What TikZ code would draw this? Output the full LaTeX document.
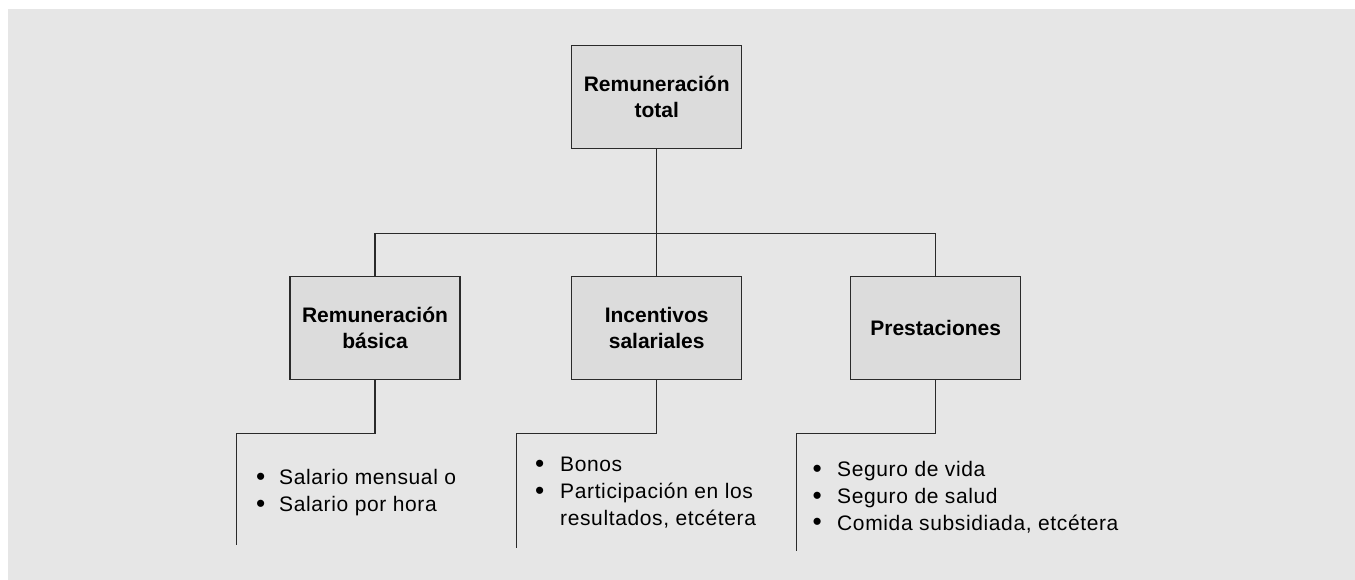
\documentclass[tikz,border=0pt]{standalone}
\usepackage{fontspec}
\setmainfont{Liberation Sans}
\newfontfamily\bodyfont[LetterSpace=3]{Liberation Sans}
\definecolor{bggray}{HTML}{E6E6E6}
\definecolor{boxgray}{HTML}{DCDCDC}
\definecolor{linegray}{HTML}{2A2A2A}
\newcommand{\blt}{\raisebox{-0.6pt}{\scalebox{1.25}{\textbullet}}}
\tikzset{
  catbox/.style={draw=linegray, fill=boxgray, line width=1.2pt, minimum width=170pt, minimum height=103pt, inner sep=0pt, align=center, font=\fontsize{21}{26}\selectfont\bfseries},
  conn/.style={draw=linegray, line width=1.2pt},
  itemlist/.style={anchor=base west, inner sep=0pt, font=\bodyfont\fontsize{21}{26.8}\selectfont}
}
\begin{document}
\begin{tikzpicture}[x=1pt,y=-1pt]
\useasboundingbox (0,0) rectangle (1355,580);
\fill[bggray] (8,9) rectangle (1355,580);

\node[catbox] (top) at (656.7,97) {Remuneración\\total};
\node[catbox] (b1) at (375,328.3) {Remuneración\\básica};
\node[catbox] (b2) at (656.7,328.3) {Incentivos\\salariales};
\node[catbox] (b3) at (935.7,328.3) {Prestaciones};

\coordinate (hub) at (656.7,233.3);
\draw[conn] (top.south) -- (hub);
\draw[conn] (b1.north) |- (b3.north |- hub) -- (b3.north);
\draw[conn] (hub) -- (b2.north);

\coordinate (c1) at (236.7,433.3);
\coordinate (e1) at (236.7,545);
\coordinate (c2) at (516.7,433.3);
\coordinate (e2) at (516.7,548);
\coordinate (c3) at (796.7,433.3);
\coordinate (e3) at (796.7,550.7);
\draw[conn] (b1.south) |- (c1) -- (e1);
\draw[conn] (b2.south) |- (c2) -- (e2);
\draw[conn] (b3.south) |- (c3) -- (e3);

\node[itemlist] (l1) at (256,484.6) {\begin{tabular}[t]{@{}p{23pt}@{}l@{}}
\blt & Salario mensual o\\
\blt & Salario por hora
\end{tabular}};
\node[itemlist] (l2) at (535,471.7) {\begin{tabular}[t]{@{}p{25pt}@{}l@{}}
\blt & Bonos\\
\blt & Participación en los\\
 & resultados, etcétera
\end{tabular}};
\node[itemlist] (l3) at (812.3,476.7) {\begin{tabular}[t]{@{}p{24.7pt}@{}l@{}}
\blt & Seguro de vida\\
\blt & Seguro de salud\\
\blt & Comida subsidiada, etcétera
\end{tabular}};
\end{tikzpicture}
\end{document}
